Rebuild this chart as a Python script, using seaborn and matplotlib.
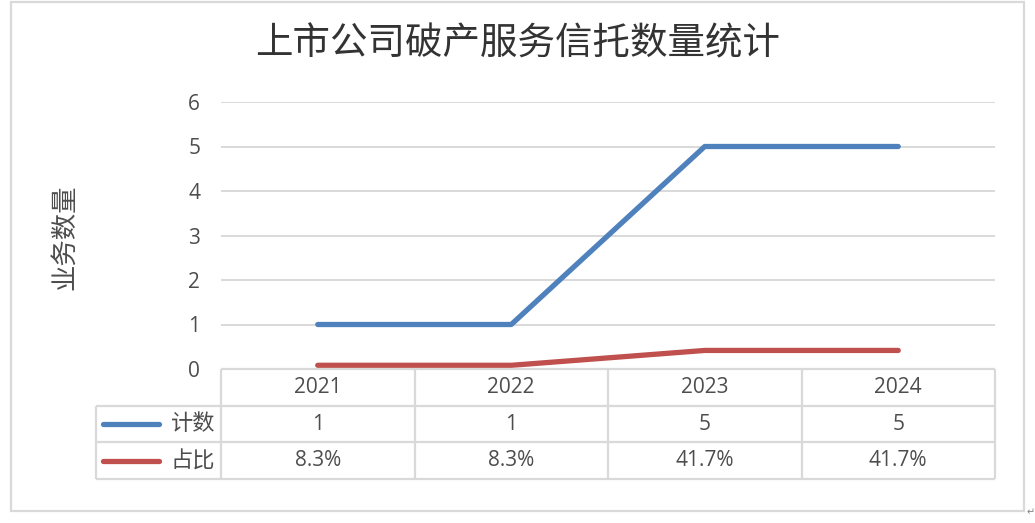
import numpy as np
import pandas as pd
import seaborn as sns
import matplotlib.pyplot as plt
from matplotlib.patches import Rectangle

# Chart data
title = '上市公司破产服务信托数量统计'
y_label = '业务数量'
years = ['2021', '2022', '2023', '2024']
counts = [1, 1, 5, 5]
shares = [0.083, 0.083, 0.417, 0.417]
count_labels = ['1', '1', '5', '5']
share_labels = ['8.3%', '8.3%', '41.7%', '41.7%']
series_names = ['计数', '占比']
y_ticks = [0, 1, 2, 3, 4, 5, 6]

blue = '#4f81bd'
red = '#c0504d'
grid_color = '#d9d9d9'
text_color = '#4d4d4d'

sns.set_theme(style='white')
plt.rcParams['font.family'] = ['Open Sans', 'Noto Sans CJK SC', 'DejaVu Sans']

W, H = 1035, 523
fig = plt.figure(figsize=(W / 100, H / 100), dpi=100)


def fx(px):
    return px / W


def fy(py):
    return 1 - py / H


# Main line chart
ax = fig.add_axes([fx(221), fy(369), fx(995) - fx(221), fy(102) - fy(369)])
pos = np.arange(len(years))
df = pd.DataFrame({
    'pos': np.concatenate([pos, pos]),
    'value': counts + shares,
    'series': [series_names[0]] * len(years) + [series_names[1]] * len(years),
})
sns.lineplot(data=df, x='pos', y='value', hue='series', palette=[blue, red],
             linewidth=3.8, legend=False, ax=ax)
for ln in ax.lines:
    ln.set_solid_capstyle('round')
    ln.set_solid_joinstyle('round')
    ln.set_zorder(3)

ax.set_xlim(-0.5, len(years) - 0.5)
ax.set_ylim(0, 6)
ax.set_yticks(y_ticks)
ax.set_xticks([])
ax.set_xlabel('')
ax.set_ylabel('')
ax.yaxis.grid(True, color=grid_color, lw=1.4)
ax.set_axisbelow(True)
for s in ax.spines.values():
    s.set_visible(False)
ax.tick_params(axis='y', length=0, pad=15, labelsize=15, labelcolor=text_color)

# Data table below the chart
unit_px = (995 - 221) / len(years)
left = -0.5 - (221 - 96) / unit_px
tab = fig.add_axes([fx(96), fy(479), fx(995) - fx(96), fy(369) - fy(479)])
tab.set_xlim(left, len(years) - 0.5)
tab.set_ylim(3, 0)
tab.axis('off')

lc = dict(color=grid_color, lw=1.6, clip_on=False)
tab.hlines([1, 2, 3], left, len(years) - 0.5, **lc)
tab.hlines(0, -0.5, len(years) - 0.5, **lc)
tab.vlines(np.arange(len(years) + 1) - 0.5, 0, 3, **lc)
tab.vlines(left, 1, 3, **lc)

for i in range(len(years)):
    tab.text(i, 0.5, years[i], ha='center', va='center', fontsize=15, color=text_color)
    tab.text(i, 1.5, count_labels[i], ha='center', va='center', fontsize=15, color=text_color)
    tab.text(i, 2.5, share_labels[i], ha='center', va='center', fontsize=15, color=text_color)

for row, name, col in [(1.5, series_names[0], blue), (2.5, series_names[1], red)]:
    tab.plot([left + 7 / unit_px, left + 63 / unit_px], [row, row], color=col,
             lw=3.8, solid_capstyle='round', clip_on=False)
    tab.text(-0.5 - 6 / unit_px, row, name, ha='right', va='center', fontsize=16,
             color=text_color, family=['Noto Sans CJK SC', 'DejaVu Sans'])

# Title and axis label
fig.text(fx(518), fy(44), title, ha='center', va='center', fontsize=27,
         color='#333333', family=['Noto Sans CJK SC', 'DejaVu Sans'])
fig.text(fx(65), fy(237), y_label, ha='center', va='center', rotation=90,
         fontsize=19, color=text_color, family=['Noto Sans CJK SC', 'DejaVu Sans'])

# Outer frame
fig.patches.append(Rectangle((fx(11), fy(511)), fx(1024) - fx(11), fy(2) - fy(511),
                             transform=fig.transFigure, fill=False,
                             edgecolor=grid_color, lw=1.6))
fig.text(fx(1031), fy(512), '↵', ha='center', va='center', fontsize=7,
         color='#808080', family=['DejaVu Sans'])

fig.savefig('out.png', dpi=100)
